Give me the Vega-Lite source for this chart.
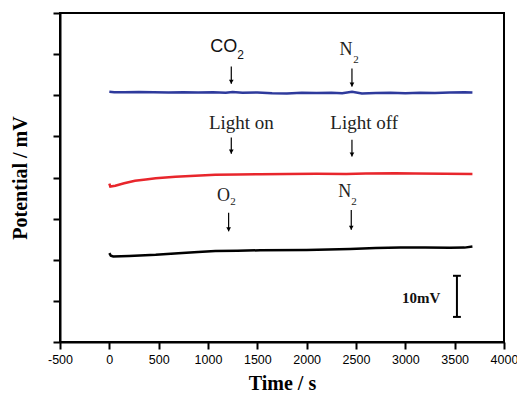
{
  "$schema": "https://vega.github.io/schema/vega-lite/v6.json",
  "width": 444,
  "height": 329,
  "autosize": "none",
  "padding": {"left": 60, "top": 13, "right": 13, "bottom": 52},
  "background": "white",
  "datasets": {
    "blue": [
      {"t": 0, "v": 60.85}, {"t": 50, "v": 60.75}, {"t": 150, "v": 60.7}, {"t": 300, "v": 60.78},
      {"t": 450, "v": 60.7}, {"t": 600, "v": 60.65}, {"t": 750, "v": 60.72}, {"t": 900, "v": 60.65},
      {"t": 1050, "v": 60.7}, {"t": 1180, "v": 60.62}, {"t": 1250, "v": 60.78}, {"t": 1350, "v": 60.6},
      {"t": 1500, "v": 60.65}, {"t": 1650, "v": 60.5}, {"t": 1800, "v": 60.45}, {"t": 1950, "v": 60.6},
      {"t": 2100, "v": 60.55}, {"t": 2250, "v": 60.62}, {"t": 2360, "v": 60.5}, {"t": 2460, "v": 60.85},
      {"t": 2560, "v": 60.45}, {"t": 2700, "v": 60.55}, {"t": 2850, "v": 60.62}, {"t": 3000, "v": 60.5},
      {"t": 3150, "v": 60.6}, {"t": 3300, "v": 60.55}, {"t": 3450, "v": 60.65}, {"t": 3600, "v": 60.7},
      {"t": 3680, "v": 60.65}
    ],
    "red": [
      {"t": 0, "v": 38.5}, {"t": 10, "v": 37.8}, {"t": 60, "v": 38.0}, {"t": 150, "v": 38.6},
      {"t": 260, "v": 39.2}, {"t": 370, "v": 39.5}, {"t": 470, "v": 39.8}, {"t": 670, "v": 40.2},
      {"t": 870, "v": 40.45}, {"t": 1074, "v": 40.65}, {"t": 1300, "v": 40.75}, {"t": 1530, "v": 40.8},
      {"t": 1800, "v": 40.85}, {"t": 2100, "v": 40.9}, {"t": 2400, "v": 40.88}, {"t": 2600, "v": 40.95},
      {"t": 2900, "v": 41.05}, {"t": 3100, "v": 41.0}, {"t": 3400, "v": 40.92}, {"t": 3680, "v": 40.85}
    ],
    "black": [
      {"t": 0, "v": 21.6}, {"t": 15, "v": 21.0}, {"t": 40, "v": 20.8}, {"t": 200, "v": 20.9},
      {"t": 470, "v": 21.2}, {"t": 700, "v": 21.6}, {"t": 900, "v": 21.9}, {"t": 1074, "v": 22.1},
      {"t": 1300, "v": 22.2}, {"t": 1530, "v": 22.3}, {"t": 2000, "v": 22.4}, {"t": 2440, "v": 22.6},
      {"t": 2700, "v": 22.85}, {"t": 2950, "v": 22.95}, {"t": 3200, "v": 22.95}, {"t": 3450, "v": 22.9},
      {"t": 3600, "v": 22.95}, {"t": 3680, "v": 23.2}
    ],
    "arrows": [
      {"t": 1236, "v": 67.0, "v2": 62.8},
      {"t": 2459, "v": 66.5, "v2": 62.1},
      {"t": 1236, "v": 49.7, "v2": 45.8},
      {"t": 2459, "v": 49.2, "v2": 45.1},
      {"t": 1209, "v": 31.4, "v2": 26.9},
      {"t": 2452, "v": 32.1, "v2": 27.3}
    ],
    "serifLeft": [
      {"t": 2334, "v": 69.9, "label": "N"},
      {"t": 1091, "v": 34.4, "label": "O"},
      {"t": 2320, "v": 35.3, "label": "N"}
    ],
    "serifCenter": [
      {"t": 1338, "v": 51.9, "label": "Light on"},
      {"t": 2583, "v": 51.9, "label": "Light off"}
    ],
    "serifSub": [
      {"t": 2472, "v": 67.9, "label": "2"},
      {"t": 1226, "v": 33.3, "label": "2"},
      {"t": 2452, "v": 33.4, "label": "2"}
    ],
    "sansMain": [{"t": 1023, "v": 70.5, "label": "CO"}],
    "sansSub": [{"t": 1297, "v": 68.85, "label": "2"}],
    "boldLabel": [{"t": 3161, "v": 9.6, "label": "10mV"}],
    "barV": [{"t": 3523, "v": 6.1, "v2": 16.1}],
    "barCaps": [
      {"t": 3483, "t2": 3563, "v": 6.1},
      {"t": 3483, "t2": 3563, "v": 16.1}
    ]
  },
  "encoding": {
    "x": {
      "field": "t", "type": "quantitative",
      "scale": {"domain": [-500, 4000], "nice": false, "zero": false},
      "axis": {
        "values": [-500, 0, 500, 1000, 1500, 2000, 2500, 3000, 3500, 4000],
        "labelExpr": "'' + datum.value",
        "title": "Time / s", "labelPadding": 4, "titlePadding": 8, "labelFlush": false
      }
    },
    "y": {
      "field": "v", "type": "quantitative",
      "scale": {"domain": [0, 80], "nice": false, "zero": false},
      "axis": {
        "values": [0, 10, 20, 30, 40, 50, 60, 70, 80],
        "labels": false, "title": "Potential / mV", "titlePadding": 22
      }
    }
  },
  "layer": [
    {"data": {"name": "blue"}, "mark": {"type": "line", "color": "#2e3a9c", "strokeWidth": 2.5}},
    {"data": {"name": "red"}, "mark": {"type": "line", "color": "#e8262c", "strokeWidth": 2.5}},
    {"data": {"name": "black"}, "mark": {"type": "line", "color": "#000000", "strokeWidth": 2.5}},
    {"data": {"name": "arrows"}, "mark": {"type": "rule", "color": "black", "strokeWidth": 1.2}, "encoding": {"y2": {"field": "v2"}}},
    {"data": {"name": "arrows"}, "mark": {"type": "point", "shape": "triangle-down", "filled": true, "color": "black", "size": 22, "opacity": 1, "yOffset": -2}, "encoding": {"y": {"field": "v2", "type": "quantitative"}}},
    {"data": {"name": "serifLeft"}, "mark": {"type": "text", "font": "Liberation Serif", "fontSize": 18, "align": "left", "baseline": "alphabetic", "color": "#222"}, "encoding": {"text": {"field": "label"}}},
    {"data": {"name": "serifCenter"}, "mark": {"type": "text", "font": "Liberation Serif", "fontSize": 19, "align": "center", "baseline": "alphabetic", "color": "#222"}, "encoding": {"text": {"field": "label"}}},
    {"data": {"name": "serifSub"}, "mark": {"type": "text", "font": "Liberation Serif", "fontSize": 11, "align": "left", "baseline": "alphabetic", "color": "#222"}, "encoding": {"text": {"field": "label"}}},
    {"data": {"name": "sansMain"}, "mark": {"type": "text", "font": "Liberation Sans", "fontSize": 18, "align": "left", "baseline": "alphabetic", "color": "#111"}, "encoding": {"text": {"field": "label"}}},
    {"data": {"name": "sansSub"}, "mark": {"type": "text", "font": "Liberation Sans", "fontSize": 12, "align": "left", "baseline": "alphabetic", "color": "#111"}, "encoding": {"text": {"field": "label"}}},
    {"data": {"name": "boldLabel"}, "mark": {"type": "text", "font": "Liberation Serif", "fontSize": 15, "fontWeight": "bold", "align": "center", "baseline": "alphabetic", "color": "#111"}, "encoding": {"text": {"field": "label"}}},
    {"data": {"name": "barV"}, "mark": {"type": "rule", "color": "black", "strokeWidth": 2}, "encoding": {"y2": {"field": "v2"}}},
    {"data": {"name": "barCaps"}, "mark": {"type": "rule", "color": "black", "strokeWidth": 2}, "encoding": {"x2": {"field": "t2"}}}
  ],
  "config": {
    "view": {"stroke": "black", "strokeWidth": 2},
    "axis": {
      "domainColor": "black", "domainWidth": 2,
      "tickColor": "black", "tickWidth": 2, "tickSize": 7,
      "grid": false,
      "labelFont": "Liberation Sans", "labelFontSize": 12.5, "labelColor": "black",
      "titleFont": "Liberation Serif", "titleFontWeight": "bold", "titleFontSize": 20, "titleColor": "black"
    }
  }
}
